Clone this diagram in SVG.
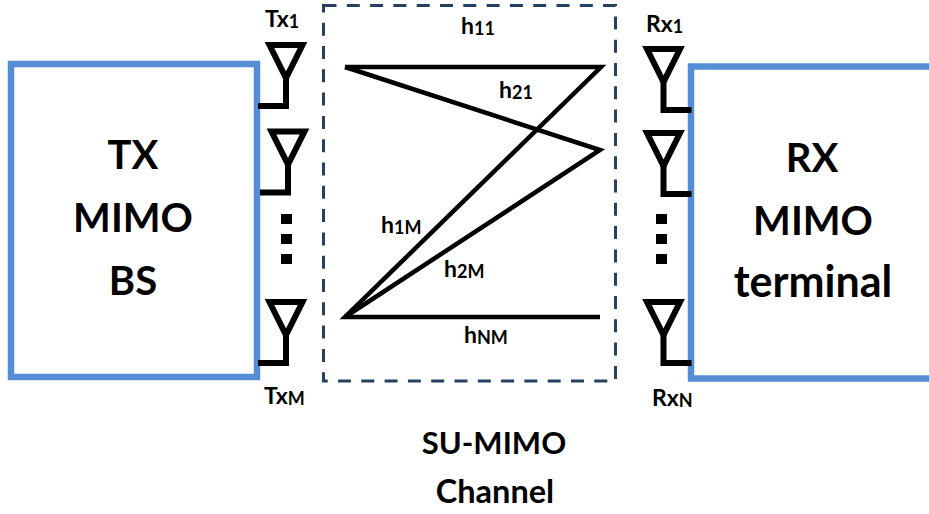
<svg xmlns="http://www.w3.org/2000/svg" width="929" height="514" viewBox="0 0 929 514">
<style>
text{font-family:"Lato","Noto Sans","Liberation Sans",sans-serif;fill:#000}
.big{font-size:40px;font-weight:700;text-anchor:middle}
.mid{font-size:31px;font-weight:700;text-anchor:middle}
.lb{font-size:23px;font-weight:700}
.sub{font-size:18px;font-weight:700}
.box{fill:none;stroke:#558ed5;stroke-width:6.5}
.ant{fill:none;stroke:#000;stroke-width:6}
.link{fill:none;stroke:#000;stroke-width:4.5}
</style>
<defs>
<g id="antL"><polygon class="ant" points="-16.5,-61 16.5,-61 0,-28"/><path class="ant" d="M0,-28V0H-28"/></g>
<g id="antR"><polygon class="ant" points="-16.5,-61 16.5,-61 0,-28"/><path class="ant" d="M0,-28V0H28"/></g>
</defs>
<g id="connectors">
<path class="link" d="M345,67H601L345,317H600"/>
<path class="link" d="M345,67L600,150L345,317"/>
</g>
<g id="tx-box"><path class="box" d="M257,64H11V377H257Z"/>
<text class="big" x="133" y="169">TX</text><text class="big" x="133" y="232">MIMO</text><text class="big" x="133" y="295">BS</text></g>
<g id="rx-box"><path class="box" d="M929,66.5H691V378.5H929"/>
<text class="big" x="812" y="172">RX</text><text class="big" x="813" y="235">MIMO</text><text class="big" x="813" y="297" style="font-size:43px">terminal</text></g>
<g id="channel"><rect x="323.5" y="5.5" width="292" height="375.5" fill="none" stroke="#254061" stroke-width="3" stroke-dasharray="13 10.3"/>
<text class="mid" x="494" y="454">SU-MIMO</text><text class="mid" x="495" y="503" style="font-size:32.5px">Channel</text></g>
<g id="tx1"><use href="#antL" x="286" y="106"/><text class="lb" x="265" y="27">Tx<tspan class="sub" dy="1">1</tspan></text></g>
<g id="tx2"><use href="#antL" x="288" y="192.5"/></g>
<g id="tx-dots"><rect x="281" y="214" width="11" height="10"/><rect x="281" y="234" width="11" height="10"/><rect x="281" y="254" width="11" height="10"/></g>
<g id="txm"><use href="#antL" x="286" y="363"/><text class="lb" x="264" y="404">Tx<tspan class="sub" dy="1">M</tspan></text></g>
<g id="rx1"><use href="#antR" x="663.5" y="110"/><text class="lb" x="646" y="32">Rx<tspan class="sub" dy="1">1</tspan></text></g>
<g id="rx2"><use href="#antR" x="663.5" y="194"/></g>
<g id="rx-dots"><rect x="656" y="214" width="11" height="10"/><rect x="656" y="234" width="11" height="10"/><rect x="656" y="254" width="11" height="10"/></g>
<g id="rxn"><use href="#antR" x="663.5" y="363"/><text class="lb" x="652" y="406">Rx<tspan class="sub" dy="1">N</tspan></text></g>
<g id="labels">
<text class="lb" x="461" y="34">h<tspan class="sub" dy="1">11</tspan></text>
<text class="lb" x="499" y="98">h<tspan class="sub" dy="1">21</tspan></text>
<text class="lb" x="381" y="233">h<tspan class="sub" dy="1">1M</tspan></text>
<text class="lb" x="444" y="277">h<tspan class="sub" dy="1">2M</tspan></text>
<text class="lb" x="464" y="343">h<tspan class="sub" dy="1">NM</tspan></text>
</g>
</svg>
